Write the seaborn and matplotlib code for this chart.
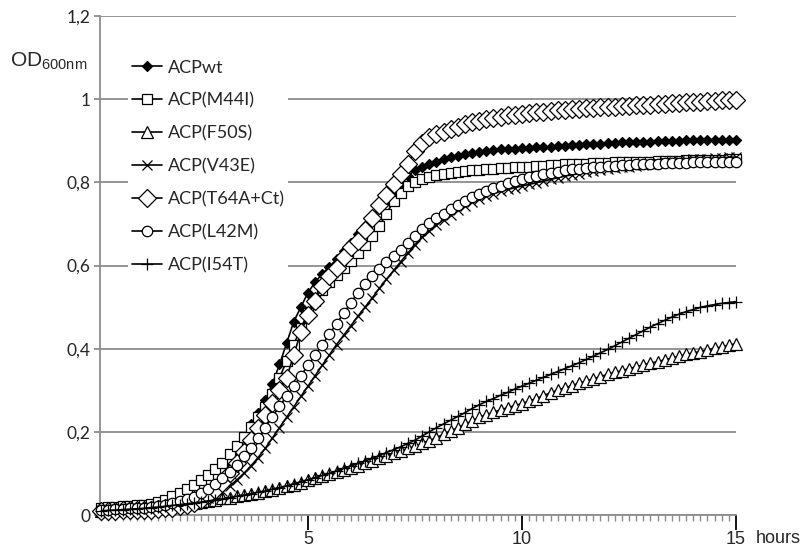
import numpy as np
import pandas as pd
import matplotlib
matplotlib.use("Agg")
import matplotlib.pyplot as plt
import seaborn as sns
from matplotlib.ticker import MultipleLocator, FixedLocator

# sampling every 10 min
hours = np.arange(1, 91) / 6

strains = ["ACPwt", "ACP(M44I)", "ACP(F50S)", "ACP(V43E)",
           "ACP(T64A+Ct)", "ACP(L42M)", "ACP(I54T)"]

acp_wt = [0.015, 0.016, 0.017, 0.018, 0.019, 0.020,
          0.021, 0.023, 0.025, 0.027, 0.030, 0.034,
          0.039, 0.045, 0.053, 0.063, 0.075, 0.090,
          0.115, 0.148, 0.185, 0.218, 0.246, 0.276,
          0.315, 0.362, 0.413, 0.465, 0.500, 0.535,
          0.560, 0.580, 0.597, 0.615, 0.635, 0.655,
          0.675, 0.695, 0.715, 0.735, 0.755, 0.775,
          0.795, 0.815, 0.830, 0.838, 0.844, 0.849,
          0.855, 0.860, 0.864, 0.867, 0.870, 0.873,
          0.875, 0.877, 0.879, 0.880, 0.881, 0.882,
          0.883, 0.884, 0.885, 0.886, 0.887, 0.888,
          0.889, 0.890, 0.891, 0.892, 0.893, 0.894,
          0.895, 0.896, 0.896, 0.897, 0.898, 0.898,
          0.899, 0.899, 0.900, 0.900, 0.901, 0.901,
          0.901, 0.902, 0.902, 0.902, 0.902, 0.902]

acp_m44i = [0.018, 0.019, 0.020, 0.021, 0.022, 0.023,
            0.024, 0.027, 0.031, 0.037, 0.045, 0.053,
            0.062, 0.072, 0.084, 0.097, 0.111, 0.126,
            0.146, 0.166, 0.188, 0.211, 0.235, 0.259,
            0.290, 0.330, 0.370, 0.410, 0.450, 0.485,
            0.515, 0.540, 0.560, 0.577, 0.593, 0.610,
            0.630, 0.650, 0.672, 0.695, 0.725, 0.755,
            0.775, 0.790, 0.800, 0.808, 0.813, 0.817,
            0.820, 0.823, 0.825, 0.827, 0.829, 0.830,
            0.832, 0.833, 0.834, 0.835, 0.836, 0.837,
            0.838, 0.839, 0.840, 0.841, 0.842, 0.843,
            0.844, 0.845, 0.845, 0.846, 0.847, 0.847,
            0.848, 0.848, 0.849, 0.849, 0.850, 0.850,
            0.851, 0.851, 0.852, 0.852, 0.853, 0.853,
            0.853, 0.854, 0.854, 0.854, 0.855, 0.855]

acp_f50s = [0.010, 0.011, 0.012, 0.013, 0.014, 0.016,
            0.017, 0.019, 0.020, 0.022, 0.024, 0.026,
            0.028, 0.030, 0.032, 0.034, 0.037, 0.040,
            0.042, 0.045, 0.048, 0.051, 0.054, 0.057,
            0.061, 0.065, 0.069, 0.073, 0.078, 0.083,
            0.088, 0.093, 0.098, 0.103, 0.108, 0.114,
            0.119, 0.124, 0.130, 0.136, 0.142, 0.148,
            0.154, 0.160, 0.165, 0.172, 0.179, 0.186,
            0.194, 0.202, 0.210, 0.218, 0.226, 0.235,
            0.241, 0.247, 0.253, 0.258, 0.263, 0.268,
            0.274, 0.280, 0.287, 0.294, 0.300, 0.306,
            0.311, 0.317, 0.322, 0.327, 0.333, 0.338,
            0.343, 0.347, 0.352, 0.356, 0.361, 0.365,
            0.369, 0.373, 0.377, 0.382, 0.386, 0.390,
            0.393, 0.397, 0.401, 0.404, 0.408, 0.412]

acp_v43e = [0.010, 0.010, 0.011, 0.011, 0.012, 0.012,
            0.013, 0.014, 0.015, 0.017, 0.019, 0.022,
            0.025, 0.029, 0.034, 0.040, 0.048, 0.058,
            0.070, 0.084, 0.100, 0.118, 0.138, 0.160,
            0.185, 0.210, 0.235, 0.260, 0.285, 0.310,
            0.335, 0.360, 0.385, 0.410, 0.432, 0.455,
            0.478, 0.500, 0.522, 0.545, 0.567, 0.588,
            0.609, 0.630, 0.650, 0.668, 0.683, 0.697,
            0.710, 0.722, 0.733, 0.743, 0.752, 0.760,
            0.767, 0.773, 0.778, 0.783, 0.787, 0.791,
            0.795, 0.799, 0.803, 0.807, 0.811, 0.815,
            0.818, 0.821, 0.824, 0.827, 0.830, 0.832,
            0.834, 0.836, 0.838, 0.840, 0.842, 0.844,
            0.846, 0.848, 0.850, 0.852, 0.854, 0.855,
            0.856, 0.857, 0.858, 0.859, 0.860, 0.861]

acp_t64a = [0.010, 0.010, 0.010, 0.011, 0.011, 0.012,
            0.012, 0.013, 0.014, 0.016, 0.018, 0.021,
            0.024, 0.029, 0.037, 0.048, 0.060, 0.078,
            0.100, 0.126, 0.152, 0.180, 0.210, 0.240,
            0.270, 0.300, 0.330, 0.385, 0.440, 0.480,
            0.515, 0.550, 0.575, 0.595, 0.620, 0.645,
            0.660, 0.685, 0.715, 0.745, 0.770, 0.795,
            0.820, 0.845, 0.875, 0.895, 0.908, 0.916,
            0.922, 0.928, 0.934, 0.940, 0.944, 0.948,
            0.952, 0.955, 0.958, 0.961, 0.963, 0.965,
            0.967, 0.969, 0.970, 0.972, 0.973, 0.975,
            0.976, 0.977, 0.978, 0.979, 0.980, 0.981,
            0.982, 0.983, 0.984, 0.985, 0.986, 0.987,
            0.988, 0.989, 0.990, 0.991, 0.992, 0.993,
            0.994, 0.995, 0.996, 0.997, 0.998, 0.999]

acp_l42m = [0.012, 0.013, 0.014, 0.015, 0.016, 0.017,
            0.018, 0.020, 0.022, 0.025, 0.029, 0.033,
            0.038, 0.044, 0.052, 0.062, 0.074, 0.088,
            0.104, 0.121, 0.141, 0.162, 0.185, 0.210,
            0.236, 0.262, 0.285, 0.310, 0.335, 0.360,
            0.385, 0.410, 0.435, 0.460, 0.485, 0.510,
            0.535, 0.555, 0.575, 0.592, 0.608, 0.623,
            0.638, 0.655, 0.672, 0.688, 0.702, 0.714,
            0.725, 0.735, 0.745, 0.755, 0.764, 0.772,
            0.779, 0.786, 0.792, 0.798, 0.803, 0.808,
            0.812, 0.816, 0.820, 0.823, 0.826, 0.829,
            0.831, 0.833, 0.835, 0.836, 0.838, 0.839,
            0.840, 0.841, 0.842, 0.843, 0.844, 0.844,
            0.845, 0.846, 0.846, 0.847, 0.847, 0.848,
            0.848, 0.849, 0.849, 0.850, 0.850, 0.850]

acp_i54t = [0.010, 0.011, 0.012, 0.013, 0.014, 0.015,
            0.016, 0.018, 0.019, 0.021, 0.023, 0.025,
            0.027, 0.029, 0.031, 0.034, 0.036, 0.039,
            0.042, 0.045, 0.048, 0.051, 0.055, 0.058,
            0.062, 0.066, 0.070, 0.075, 0.080, 0.085,
            0.090, 0.095, 0.100, 0.106, 0.112, 0.118,
            0.124, 0.130, 0.136, 0.143, 0.150, 0.157,
            0.164, 0.172, 0.180, 0.190, 0.200, 0.210,
            0.219, 0.228, 0.237, 0.246, 0.256, 0.265,
            0.273, 0.280, 0.288, 0.295, 0.303, 0.310,
            0.317, 0.324, 0.331, 0.338, 0.345, 0.352,
            0.359, 0.366, 0.374, 0.382, 0.390, 0.398,
            0.407, 0.416, 0.425, 0.434, 0.443, 0.452,
            0.460, 0.468, 0.476, 0.483, 0.489, 0.494,
            0.499, 0.503, 0.506, 0.509, 0.511, 0.513]

y_ticks = [0, 0.2, 0.4, 0.6, 0.8, 1.0, 1.2]
y_labels = ["0", "0,2", "0,4", "0,6", "0,8", "1", "1,2"]
x_ticks = [5, 10, 15]
x_labels = ["5", "10", "15"]

series = [acp_wt, acp_m44i, acp_f50s, acp_v43e, acp_t64a, acp_l42m, acp_i54t]
df = pd.DataFrame({
    "hours": np.tile(hours, len(strains)),
    "od": np.concatenate(series),
    "strain": np.repeat(strains, len(hours)),
})

# marker styles (Excel-like, black and white)
styles = {
    "ACPwt":        dict(marker="D", markersize=5.0, markerfacecolor="black"),
    "ACP(M44I)":    dict(marker="s", markersize=7.0, markerfacecolor="white"),
    "ACP(F50S)":    dict(marker="^", markersize=8.0, markerfacecolor="white"),
    "ACP(V43E)":    dict(marker="x", markersize=7.0, markerfacecolor="black"),
    "ACP(T64A+Ct)": dict(marker="D", markersize=9.0, markerfacecolor="white"),
    "ACP(L42M)":    dict(marker="o", markersize=7.5, markerfacecolor="white"),
    "ACP(I54T)":    dict(marker="+", markersize=9.0, markerfacecolor="black"),
}

sns.set_style("white")
plt.rcParams["font.family"] = ["Lato", "DejaVu Sans"]

fig = plt.figure(figsize=(8.09, 5.52), dpi=100)
ax = fig.add_axes([100 / 809, 37 / 552, 636 / 809, 499 / 552])

for name in strains:
    sub = df[df["strain"] == name]
    sns.lineplot(data=sub, x="hours", y="od", ax=ax, label=name,
                 color="black", linewidth=1.2, markeredgecolor="black",
                 markeredgewidth=0.9, clip_on=False, zorder=3,
                 **styles[name])

ax.set_xlim(0.14, 15)
ax.set_ylim(0, 1.2)
ax.set_xlabel("")
ax.set_ylabel("")

# grid + axes
ax.yaxis.set_major_locator(FixedLocator(y_ticks))
ax.set_yticklabels(y_labels, fontsize=12.5)
ax.yaxis.grid(True, color="#8c8c8c", linewidth=1.3)
ax.xaxis.grid(False)
ax.set_axisbelow(True)
for s in ["top", "right"]:
    ax.spines[s].set_visible(False)
for s in ["left", "bottom"]:
    ax.spines[s].set_color("#8c8c8c")
    ax.spines[s].set_linewidth(1.3)

ax.tick_params(axis="y", length=4, width=1.3, color="#8c8c8c", pad=3, left=True)
ax.xaxis.set_major_locator(FixedLocator(x_ticks))
ax.set_xticklabels(x_labels, fontsize=13, family="Liberation Sans")
ax.xaxis.set_minor_locator(MultipleLocator(1 / 6))
ax.tick_params(axis="x", which="major", length=11, width=1.3, color="black",
               pad=0.5, bottom=True)
ax.tick_params(axis="x", which="minor", length=4, width=1.0, color="#8c8c8c",
               bottom=True)

ax.text(15.45, -0.031, "hours", fontsize=13, family="Liberation Sans",
        ha="left", va="top", transform=ax.get_xaxis_transform())

fig.text(10 / 809, 1 - 66 / 552, "OD$_{\\mathregular{600nm}}$", fontsize=15,
         family="Liberation Sans", ha="left", va="baseline")

leg = ax.legend(loc="upper left", bbox_to_anchor=(0.044, 0.92), fontsize=13,
                frameon=True, framealpha=1, facecolor="white", edgecolor="none",
                handlelength=1.7, handletextpad=0.3, labelspacing=0.93,
                borderpad=0.2, borderaxespad=0)

fig.savefig("out.png", dpi=100)
